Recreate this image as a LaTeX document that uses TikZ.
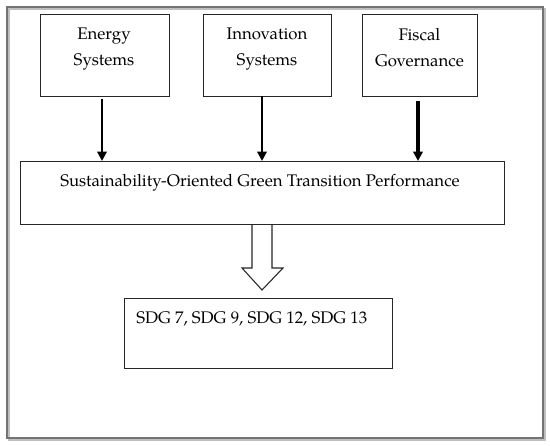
\documentclass[tikz,border=0pt]{standalone}
\usepackage{fontspec}
\setmainfont{TeX Gyre Pagella}
\usetikzlibrary{arrows.meta}
\begin{document}
\begin{tikzpicture}[x=0.75pt,y=-0.75pt,
  box/.style={draw=black!85,line width=0.9pt,inner sep=0pt,anchor=north west},
  lbl/.style={font=\fontsize{12.6}{19.5}\selectfont,align=center,inner sep=0pt},
  arr/.style={line width=1.6pt,-{Triangle[length=7pt,width=7pt]}}]
\useasboundingbox (0,0) rectangle (550,446);
% outer frame with slight shadow
\draw[black!25,line width=1.2pt] (9,9) rectangle (545,440);
\draw[black!55,line width=0.9pt] (7,7) rectangle (543,438);
% top boxes
\node[box,minimum width=96.75pt,minimum height=61.5pt] (energy) at (40,14) {};
\node[box,minimum width=96pt,minimum height=61.5pt] (innov) at (203,14) {};
\node[box,minimum width=86.25pt,minimum height=61.5pt] (fiscal) at (362,14) {};
\node[lbl,anchor=north] (tenergy) at (104,28) {Energy\\Systems};
\node[lbl,anchor=north] (tinnov) at (267,28) {Innovation\\Systems};
\node[lbl,anchor=north] (tfiscal) at (419.5,28) {Fiscal\\Governance};
% main box
\node[box,minimum width=363pt,minimum height=47.25pt] (perf) at (20,161) {};
\node[lbl,anchor=west] (tperf) at (60,183) {Sustainability-Oriented Green Transition Performance};
% arrows
\coordinate (e1) at (102,99); \coordinate (e2) at (102,161);
\coordinate (i1) at (262,96); \coordinate (i2) at (262,161);
\coordinate (f1) at (418,101); \coordinate (f2) at (418,161);
\draw[arr] (e1) -- (e2);
\draw[arr] (i1) -- (i2);
\draw[arr,line width=2.3pt] (f1) -- (f2);
% SDG box
\node[box,minimum width=201pt,minimum height=52.5pt] (sdg) at (124,298) {};
\node[lbl,anchor=west] (tsdg) at (136,319) {SDG 7, SDG 9, SDG 12, SDG 13};
% hollow block arrow
\draw[black!85,line width=0.8pt,fill=white]
  (252,225) -- (252,268) -- (242,268) -- (262,290) -- (283,268) -- (272,268) -- (272,225);
\end{tikzpicture}
\end{document}
